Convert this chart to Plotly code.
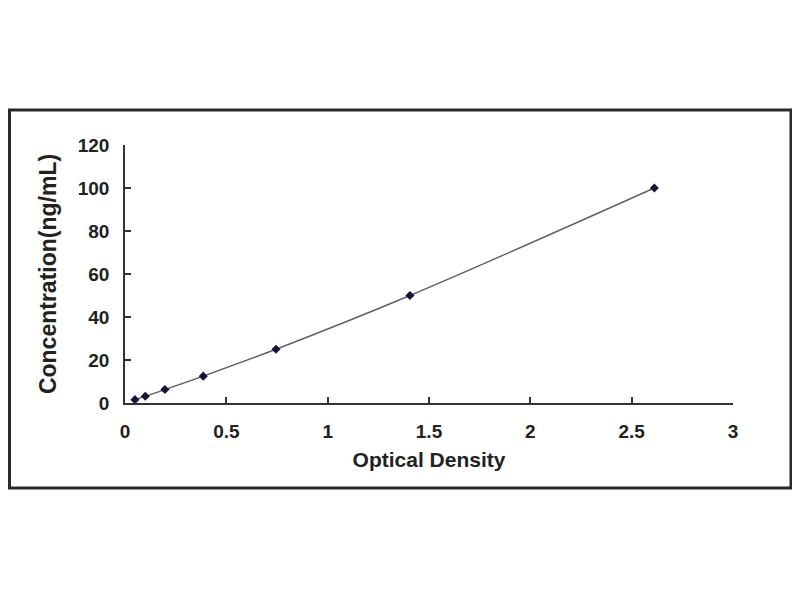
import plotly.graph_objects as go

# standard curve: optical density vs concentration
od = [0.049, 0.100, 0.197, 0.386, 0.745, 1.406, 2.612]
conc = [1.56, 3.12, 6.25, 12.5, 25, 50, 100]

x_ticks = [0, 0.5, 1, 1.5, 2, 2.5, 3]
x_tick_text = ["0", "0.5", "1", "1.5", "2", "2.5", "3"]
y_ticks = [0, 20, 40, 60, 80, 100, 120]

font = "Liberation Sans, Arial, sans-serif"

fig = go.Figure()
fig.add_trace(go.Scatter(
    x=od, y=conc, mode="lines+markers",
    line=dict(color="#5f5f6c", width=1.4, shape="spline"),
    marker=dict(symbol="diamond", size=7, color="#14143c"),
    showlegend=False, cliponaxis=False,
))

axis_common = dict(
    showgrid=False, zeroline=False, showline=True, linecolor="#333333",
    linewidth=1.5, ticks="inside", ticklen=6, tickcolor="#333333",
    tickwidth=1.5, ticklabelstandoff=10,
    tickfont=dict(family=font, size=19, color="#222222", weight="bold"),
)
fig.update_xaxes(range=[0, 3], tickvals=x_ticks, ticktext=x_tick_text,
                 title_text="Optical Density", title_standoff=12,
                 title_font=dict(family=font, size=21, color="#222222", weight="bold"),
                 **axis_common)
fig.update_yaxes(range=[0, 120], tickvals=y_ticks,
                 title_text="Concentration(ng/mL)", title_standoff=15,
                 title_font=dict(family=font, size=23, color="#222222", weight="bold"),
                 **axis_common)

# outer frame (paper coords relative to plot area 608x258 px)
fig.add_shape(type="rect", xref="paper", yref="paper",
              x0=-115.5 / 608, x1=666 / 608, y0=-85 / 258, y1=293 / 258,
              line=dict(color="#2a2a2a", width=3))

fig.update_layout(
    width=800, height=600,
    margin=dict(l=117, r=75, t=137, b=205),
    paper_bgcolor="white", plot_bgcolor="white",
    font=dict(family=font, size=14, color="#222222"),
)
fig.write_html("out.html")
